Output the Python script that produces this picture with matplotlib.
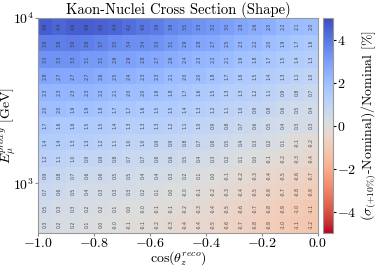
import matplotlib
matplotlib.use("Agg")
import matplotlib.pyplot as plt
import numpy as np

plt.rcParams['font.family'] = 'serif'
plt.rcParams['font.serif'] = ['cmr10']
plt.rcParams['mathtext.fontset'] = 'cm'
plt.rcParams['axes.formatter.use_mathtext'] = True

# bin edges of cos(theta) and log10(E)
cosEdges = np.linspace(-1.0, 0.0, 21)
logEEdges = np.linspace(2.7, 4.0, 14)

# relative change in %, rows listed from the highest energy bin down
rows = [
    [4.6, 4.4, 4.6, 4.6, 4.5, 4.4, 4.2, 4.0, 3.9, 3.6, 3.5, 3.3, 3.2, 3.0, 2.8, 2.6, 2.5, 2.2, 2.1, 2.0],
    [3.8, 3.8, 3.9, 3.8, 3.7, 3.5, 3.4, 3.4, 3.3, 3.1, 2.9, 2.8, 2.7, 2.5, 2.3, 2.2, 2.0, 1.9, 1.7, 1.6],
    [3.3, 3.3, 3.3, 3.1, 3.1, 2.9, 2.9, 2.8, 2.7, 2.6, 2.4, 2.3, 2.2, 2.1, 1.9, 1.8, 1.7, 1.5, 1.4, 1.3],
    [2.8, 2.7, 2.7, 2.7, 2.6, 2.5, 2.4, 2.3, 2.3, 2.1, 2.0, 2.0, 1.8, 1.7, 1.6, 1.5, 1.4, 1.3, 1.1, 1.0],
    [2.3, 2.3, 2.3, 2.3, 2.2, 2.1, 2.0, 2.0, 1.9, 1.8, 1.7, 1.6, 1.5, 1.3, 1.3, 1.2, 1.1, 0.9, 0.8, 0.7],
    [2.0, 2.0, 1.9, 1.9, 1.8, 1.7, 1.7, 1.6, 1.5, 1.5, 1.4, 1.3, 1.2, 1.1, 1.0, 0.9, 0.8, 0.6, 0.5, 0.4],
    [1.7, 1.6, 1.6, 1.5, 1.5, 1.4, 1.3, 1.3, 1.3, 1.2, 1.1, 1.0, 0.9, 0.8, 0.7, 0.6, 0.5, 0.4, 0.3, 0.3],
    [1.4, 1.4, 1.3, 1.3, 1.2, 1.1, 1.0, 1.0, 0.9, 0.9, 0.8, 0.7, 0.6, 0.5, 0.4, 0.3, 0.2, 0.1, -0.1, -0.2],
    [1.2, 1.1, 1.0, 0.9, 0.9, 0.8, 0.7, 0.7, 0.6, 0.6, 0.5, 0.4, 0.3, 0.2, 0.1, 0.0, -0.1, -0.2, -0.3, -0.4],
    [0.9, 0.8, 0.7, 0.6, 0.6, 0.5, 0.5, 0.4, 0.4, 0.3, 0.2, 0.1, 0.0, -0.1, -0.2, -0.3, -0.4, -0.5, -0.6, -0.7],
    [0.7, 0.6, 0.5, 0.4, 0.3, 0.3, 0.3, 0.2, 0.1, 0.0, -0.0, -0.1, -0.2, -0.3, -0.4, -0.5, -0.6, -0.7, -0.8, -0.9],
    [0.5, 0.3, 0.3, 0.2, 0.2, 0.1, 0.0, -0.0, -0.1, -0.1, -0.2, -0.3, -0.4, -0.5, -0.6, -0.7, -0.8, -0.9, -1.0, -1.1],
    [0.3, 0.2, 0.2, 0.1, 0.0, -0.0, -0.1, -0.1, -0.2, -0.3, -0.4, -0.4, -0.5, -0.6, -0.7, -0.8, -0.9, -1.0, -1.1, -1.2],
]
values = np.array(rows[::-1])

eEdges = 10 ** logEEdges

fig = plt.figure(figsize=(3.79, 2.70), dpi=100)
ax = fig.add_axes([0.10, 0.137, 0.739, 0.796])
cax = fig.add_axes([0.852, 0.137, 0.027, 0.796])

mesh = ax.pcolormesh(cosEdges, eEdges, values, cmap='coolwarm_r', vmin=-5, vmax=5)
ax.set_yscale('log')
ax.set_xlim(-1.0, 0.0)
ax.set_ylim(eEdges[0], eEdges[-1])

xc = 0.5 * (cosEdges[:-1] + cosEdges[1:])
yc = 10 ** (0.5 * (logEEdges[:-1] + logEEdges[1:]))
for i in range(values.shape[0]):
    for j in range(values.shape[1]):
        ax.text(xc[j], yc[i], "%.1f" % values[i, j], ha='center', va='center',
                rotation=90, fontsize=3.3, color='#333333', alpha=0.85,
                family='DejaVu Sans')

ax.set_title("Kaon-Nuclei Cross Section (Shape)", fontsize=10.5, pad=1)
ax.set_xlabel(r"$\cos(\theta_z^{reco})$", fontsize=10, labelpad=0)
ax.set_ylabel(r"$E_{\mu}^{proxy}$ [GeV]", fontsize=10)
ax.yaxis.set_label_coords(-0.07, 0.5)
ax.set_xticks([-1.0, -0.8, -0.6, -0.4, -0.2, 0.0])
ax.tick_params(labelsize=10, length=2, color='#888888', pad=1)
ax.tick_params(which='minor', length=0)
for s in ax.spines.values():
    s.set_color('#999999')

cb = fig.colorbar(mesh, cax=cax)
cb.set_ticks([-4, -2, 0, 2, 4])
cb.ax.tick_params(labelsize=10, length=2, pad=1)
cb.set_label(r"$(\sigma_{(+10\%)}$-Nominal)/Nominal [%]", fontsize=10, labelpad=2)
cb.outline.set_edgecolor('#999999')

fig.savefig("out.png", dpi=100)
